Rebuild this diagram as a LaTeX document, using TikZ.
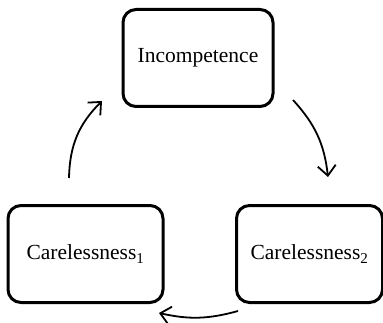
\documentclass[tikz,border=0pt]{standalone}
\usepackage{fontspec}
\setmainfont{Liberation Serif}
\usetikzlibrary{arrows.meta}

\begin{document}
\begin{tikzpicture}[x=1pt, y=1pt,
        box/.style={draw=black, line width=3pt, fill=white, rounded corners=13pt, align=center, font=\fontsize{21.5}{25}\selectfont, minimum width=150pt, minimum height=97pt, inner sep=2pt},
        arr/.style={-{Straight Barb[length=10pt, width=18pt, line width=1.8pt]}, line width=1.8pt, color=black}]

        \useasboundingbox (0,0) rectangle (383,322);

        \node[box] (inc) at (198,264) {Incompetence};
        \node[box, minimum width=155pt] (car1) at (85.5,68) {Carelessness\textsubscript{1}};
        \node[box, minimum width=146pt] (car2) at (309.5,68) {Carelessness\textsubscript{2}};

        % free ends of the cycle arrows
        \coordinate (l1) at (69,144);
        \coordinate (l2) at (102,221);
        \coordinate (r1) at (293,222);
        \coordinate (r2) at (328,145);
        \coordinate (b1) at (238,11);
        \coordinate (b2) at (159,9);

        \draw[arr] (l1) to[bend left=22] (l2);
        \draw[arr] (r1) to[bend left=18] (r2);
        \draw[arr] (b1) to[bend left=14] (b2);
      \end{tikzpicture}
\end{document}
